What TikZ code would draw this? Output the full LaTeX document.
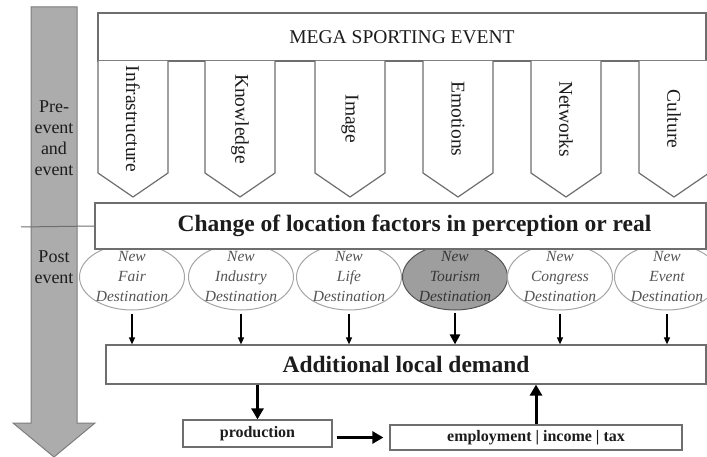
\documentclass[tikz,border=0pt]{standalone}
\usepackage{fontspec}
\setmainfont{Liberation Serif}
\usetikzlibrary{positioning, shapes.geometric, arrows.meta}

\definecolor{boxline}{RGB}{110,110,110}
\definecolor{ringline}{RGB}{165,165,165}
\definecolor{bigfill}{RGB}{172,172,172}
\definecolor{bigline}{RGB}{125,125,125}
\definecolor{tourfill}{RGB}{158,158,158}
\definecolor{tourline}{RGB}{85,85,85}
\definecolor{goaltextcol}{RGB}{85,85,85}
\definecolor{inkcol}{RGB}{28,28,28}

\begin{document}
\begin{tikzpicture}[x=1pt, y=-1pt, >={Triangle[length=7pt,width=6pt]}]
    \tikzstyle{every node}=[text=inkcol]
    \tikzstyle{frame}=[draw=boxline, line width=1.2pt, fill=white, inner sep=0pt]
    \tikzstyle{factor}=[draw=boxline, line width=1.2pt, fill=white]
    \tikzstyle{factortext}=[rotate=-90, font=\fontsize{19.5}{22}\selectfont]
    \tikzstyle{goal}=[ellipse, draw=ringline, line width=1pt, fill=white, minimum width=105pt, minimum height=66pt, inner sep=0pt]
    \tikzstyle{goaltext}=[align=center, text=goaltextcol, font=\fontsize{15.5}{20}\selectfont\itshape]
    \tikzstyle{thin}=[->, line width=1.3pt, shorten <=3pt]
    \tikzstyle{big}=[line width=3pt, -{Triangle[length=11pt,width=12pt]}]

    \clip (0,0) rectangle (707,457);

    % time axis
    \draw[fill=bigfill, draw=bigline, line width=1pt]
        (31,7) -- (77,7) -- (77,423) -- (95,423) -- (54,457) -- (13,423) -- (31,423) -- cycle;
    \node[align=center, font=\fontsize{18}{21}\selectfont] (pre) at (54,138) {Pre-\\event\\and\\event};
    \node[align=center, font=\fontsize{18}{21}\selectfont] (post) at (54,267) {Post\\event};

    % event and its factors
    \node[frame, minimum width=608pt, minimum height=48pt, font=\fontsize{19.5}{22}\selectfont] (mega) at (402,37) {MEGA SPORTING EVENT};

    \draw[factor] (98,61) -- ++(0,112) -- ++(35,24) -- ++(35,-24) -- ++(0,-112);
    \draw[factor] (205,61) -- ++(0,112) -- ++(35,24) -- ++(35,-24) -- ++(0,-112);
    \draw[factor] (315,61) -- ++(0,112) -- ++(35,24) -- ++(35,-24) -- ++(0,-112);
    \draw[factor] (423,61) -- ++(0,112) -- ++(35,24) -- ++(35,-24) -- ++(0,-112);
    \draw[factor] (531,61) -- ++(0,112) -- ++(35,24) -- ++(35,-24) -- ++(0,-112);
    \draw[factor] (639,61) -- ++(0,112) -- ++(35,24) -- ++(35,-24) -- ++(0,-112);

    \node[factortext] (f_1) at (133,119) {Infrastructure};
    \node[factortext] (f_2) at (240,119) {Knowledge};
    \node[factortext] (f_3) at (350,119) {Image};
    \node[factortext] (f_4) at (458,119) {Emotions};
    \node[factortext] (f_5) at (566,119) {Networks};
    \node[factortext] (f_6) at (674,119) {Culture};

    % destinations
    \node[goal] (d_1) at (132,277) {};
    \node[goal] (d_2) at (241,277) {};
    \node[goal] (d_3) at (349,277) {};
    \node[goal, fill=tourfill, draw=tourline] (d_4) at (455,277) {};
    \node[goal] (d_5) at (560,277) {};
    \node[goal] (d_6) at (667,277) {};

    \node[goaltext] (t_1) at (d_1) {New\\Fair\\Destination};
    \node[goaltext] (t_2) at (d_2) {New\\Industry\\Destination};
    \node[goaltext] (t_3) at (d_3) {New\\Life\\Destination};
    \node[goaltext, text={rgb,255:red,55;green,55;blue,55}] (t_4) at (d_4) {New\\Tourism\\Destination};
    \node[goaltext] (t_5) at (d_5) {New\\Congress\\Destination};
    \node[goaltext] (t_6) at (d_6) {New\\Event\\Destination};

    \node[frame, minimum width=611pt, minimum height=46pt, font=\fontsize{23.5}{26}\selectfont\bfseries] (change) at (400.5,226) {\hspace*{28pt}Change of location factors in perception or real};
    \coordinate (cut) at (21,227);
    \draw[boxline, line width=1pt] (cut) -- (change.west);

    % demand and effects
    \node[frame, minimum width=600pt, minimum height=39pt, font=\fontsize{23.5}{26}\selectfont\bfseries] (demand) at (406,364.5) {Additional local demand};
    \node[frame, minimum width=149pt, minimum height=27pt, font=\fontsize{16}{18}\selectfont\bfseries] (prod) at (257.5,433.5) {production};
    \node[frame, minimum width=292pt, minimum height=25pt, font=\fontsize{16}{18}\selectfont\bfseries] (emp) at (536,437.5) {employment | income | tax};

    \path[thin]
    (d_1) edge (d_1 |- demand.north)
    (d_2) edge (d_2 |- demand.north)
    (d_3) edge (d_3 |- demand.north)
    (d_5) edge (d_5 |- demand.north)
    (d_6) edge (d_6 |- demand.north);
    \draw[line width=2.6pt, shorten <=2pt, -{Triangle[length=10pt,width=10pt]}] (d_4) -- (d_4 |- demand.north);

    \draw[big] (prod.north |- demand.south) -- (prod.north);
    \draw[big, shorten <=4pt, shorten >=6pt] (prod.east |- emp.west) -- (emp.west);
    \draw[big] (emp.north) -- (emp.north |- demand.south);
\end{tikzpicture}
\end{document}
